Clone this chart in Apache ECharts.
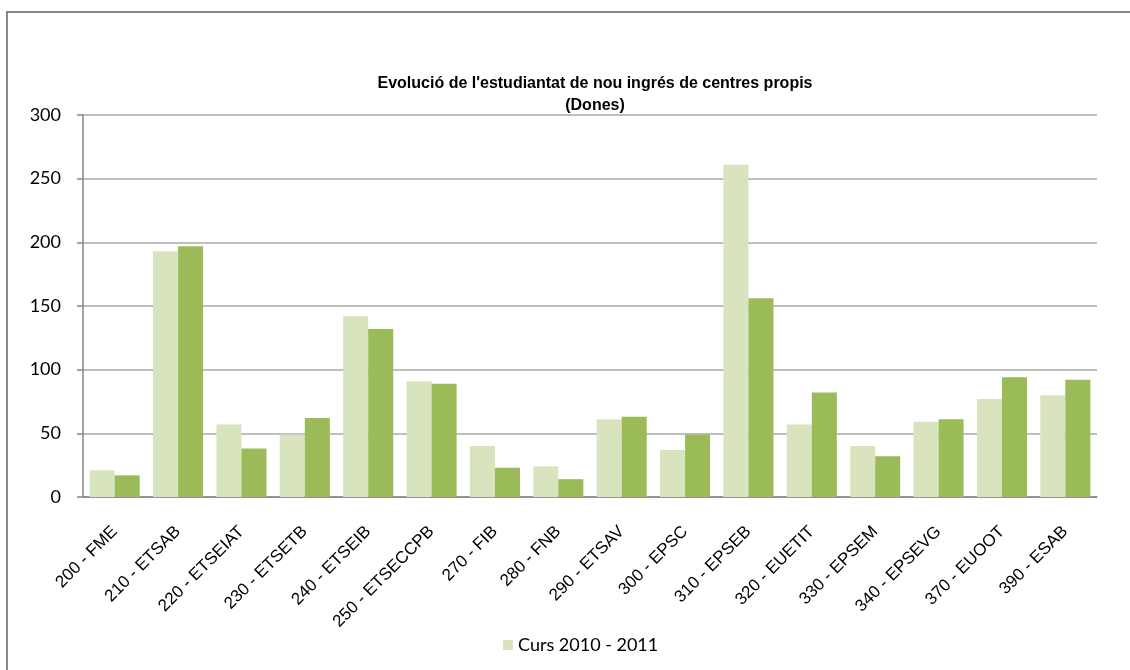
<!DOCTYPE html>
<html>
<head>
<meta charset="utf-8">
<script src="https://cdn.jsdelivr.net/npm/echarts@6/dist/echarts.min.js"></script>
<style>
  html, body { margin: 0; padding: 0; background: #fff; }
  #chart { width: 1130px; height: 670px; }
</style>
</head>
<body>
<div id="chart"></div>
<script>
const centres = ['200 - FME', '210 - ETSAB', '220 - ETSEIAT', '230 - ETSETB', '240 - ETSEIB',
  '250 - ETSECCPB', '270 - FIB', '280 - FNB', '290 - ETSAV', '300 - EPSC', '310 - EPSEB',
  '320 - EUETIT', '330 - EPSEM', '340 - EPSEVG', '370 - EUOOT', '390 - ESAB'];
const curs2010 = [21, 193, 57, 49, 142, 91, 40, 24, 61, 37, 261, 57, 40, 59, 77, 80];
const curs2011 = [17, 197, 38, 62, 132, 89, 23, 14, 63, 49, 156, 82, 32, 61, 94, 92];
const yTicks = { min: 0, max: 300, step: 50 };

const chart = echarts.init(document.getElementById('chart'));

chart.setOption({
  animation: false,
  backgroundColor: '#fff',
  title: {
    text: "Evolució de l'estudiantat de nou ingrés de centres propis\n(Dones)",
    left: 590,
    top: 68,
    textAlign: 'center',
    textStyle: {
      fontFamily: 'Liberation Sans',
      fontSize: 16,
      fontWeight: 'bold',
      color: '#000',
      lineHeight: 22
    }
  },
  legend: {
    data: ['Curs 2010 - 2011'],
    left: 498,
    top: 631,
    itemWidth: 10,
    itemHeight: 10,
    icon: 'rect',
    textStyle: { fontFamily: 'Lato', fontSize: 18, color: '#000' }
  },
  grid: { left: 83, right: 33, top: 115, bottom: 173 },
  xAxis: {
    type: 'category',
    data: centres,
    axisLine: { lineStyle: { color: '#868686', width: 1.5 } },
    axisTick: { length: 5, lineStyle: { color: '#868686', width: 1.5 } },
    axisLabel: {
      rotate: 45,
      interval: 0,
      margin: 32,
      fontFamily: 'Liberation Sans',
      fontSize: 17,
      color: '#000'
    }
  },
  yAxis: {
    type: 'value',
    min: yTicks.min,
    max: yTicks.max,
    interval: yTicks.step,
    axisLine: { show: true, lineStyle: { color: '#868686', width: 1.5 } },
    axisTick: { show: true, length: 6, lineStyle: { color: '#868686', width: 1.5 } },
    axisLabel: { margin: 22, fontFamily: 'Lato', fontSize: 18, color: '#000' },
    splitLine: { lineStyle: { color: '#bfbfbf', width: 2 } }
  },
  series: [
    {
      name: 'Curs 2010 - 2011',
      type: 'bar',
      data: curs2010,
      barGap: '0%',
      barCategoryGap: '21%',
      itemStyle: { color: '#d7e4bd' }
    },
    {
      name: 'Curs 2011 - 2012',
      type: 'bar',
      data: curs2011,
      barGap: '0%',
      barCategoryGap: '21%',
      itemStyle: { color: '#9bbb59' }
    }
  ],
  graphic: [{
    type: 'rect',
    shape: { x: 7, y: 12, width: 1300, height: 800 },
    style: { fill: 'none', stroke: '#888888', lineWidth: 2 },
    silent: true
  }]
});
</script>
</body>
</html>
